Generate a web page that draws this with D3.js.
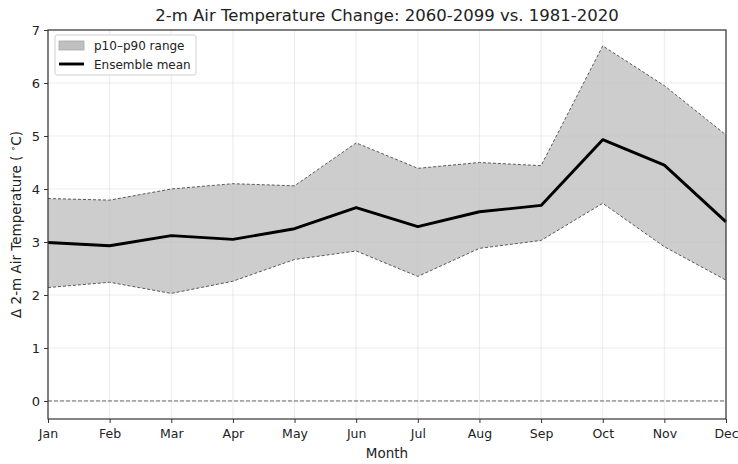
<!DOCTYPE html>
<html>
<head>
<meta charset="utf-8">
<script src="https://cdn.jsdelivr.net/npm/d3@7"></script>
<style>
  body { margin: 0; background: #fff; }
  svg { font-family: "DejaVu Sans", sans-serif; }
</style>
</head>
<body>
<div id="chart"></div>
<script>
// data
var months = ["Jan", "Feb", "Mar", "Apr", "May", "Jun", "Jul", "Aug", "Sep", "Oct", "Nov", "Dec"];
var meanVals = [2.99, 2.93, 3.12, 3.05, 3.25, 3.65, 3.29, 3.57, 3.69, 4.93, 4.45, 3.38];
var p90Vals = [3.82, 3.79, 4.00, 4.10, 4.06, 4.87, 4.39, 4.50, 4.44, 6.70, 5.95, 5.02];
var p10Vals = [2.14, 2.24, 2.03, 2.26, 2.67, 2.83, 2.35, 2.88, 3.03, 3.73, 2.91, 2.28];
var yTicks = [0, 1, 2, 3, 4, 5, 6, 7];

var W = 738, H = 464;
var margin = {top: 30, right: 12, bottom: 45, left: 48},
    width = W - margin.left - margin.right,
    height = H - margin.top - margin.bottom;

var svg = d3.select("#chart").append("svg")
    .attr("width", W)
    .attr("height", H);

var g = svg.append("g")
    .attr("transform", "translate(" + margin.left + "," + margin.top + ")");

var scX = d3.scalePoint().domain(months).range([0, width]);
var scY = d3.scaleLinear().domain([-0.34, 7.0]).range([height, 0]);

// grid
g.append("g").selectAll("line").data(months).enter().append("line")
    .attr("x1", d => scX(d)).attr("x2", d => scX(d))
    .attr("y1", 0).attr("y2", height)
    .attr("stroke", "#b0b0b0").attr("stroke-opacity", 0.3).attr("stroke-width", 0.8);
g.append("g").selectAll("line").data(yTicks).enter().append("line")
    .attr("x1", 0).attr("x2", width)
    .attr("y1", d => scY(d)).attr("y2", d => scY(d))
    .attr("stroke", "#b0b0b0").attr("stroke-opacity", 0.3).attr("stroke-width", 0.8);

// band
var rows = months.map((m, i) => ({m: m, mean: meanVals[i], lo: p10Vals[i], hi: p90Vals[i]}));

var area = d3.area()
    .x(d => scX(d.m))
    .y0(d => scY(d.lo))
    .y1(d => scY(d.hi));

g.append("path").datum(rows)
    .attr("d", area)
    .attr("fill", "#c0c0c0")
    .attr("fill-opacity", 0.8);

["lo", "hi"].forEach(function (k) {
    g.append("path").datum(rows)
        .attr("d", d3.line().x(d => scX(d.m)).y(d => scY(d[k])))
        .attr("fill", "none")
        .attr("stroke", "#5a5a5a")
        .attr("stroke-width", 1)
        .attr("stroke-dasharray", "3,2");
});

// zero line
g.append("line")
    .attr("x1", 0).attr("x2", width)
    .attr("y1", scY(0)).attr("y2", scY(0))
    .attr("stroke", "#666").attr("stroke-width", 1)
    .attr("stroke-dasharray", "4,2");

// mean
g.append("path").datum(rows)
    .attr("d", d3.line().x(d => scX(d.m)).y(d => scY(d.mean)))
    .attr("fill", "none")
    .attr("stroke", "#000")
    .attr("stroke-width", 2.9)
    .attr("stroke-linejoin", "round");

// frame
g.append("rect")
    .attr("x", 0).attr("y", 0)
    .attr("width", width).attr("height", height)
    .attr("fill", "none")
    .attr("stroke", "#333").attr("stroke-width", 1.2);

// axes
var xAxis = g.append("g")
    .attr("transform", "translate(0," + height + ")")
    .call(d3.axisBottom(scX).tickSize(4).tickPadding(6));
var yAxis = g.append("g")
    .call(d3.axisLeft(scY).tickValues(yTicks).tickSize(4).tickPadding(4));
[xAxis, yAxis].forEach(function (a) {
    a.select(".domain").remove();
    a.selectAll(".tick line").attr("stroke", "#333").attr("stroke-width", 1);
    a.selectAll("text").attr("font-size", "12.5px").attr("fill", "#222")
        .attr("font-family", "DejaVu Sans, sans-serif");
});
yAxis.selectAll("text").attr("font-size", "13px");

// labels
svg.append("text")
    .attr("x", margin.left + width / 2)
    .attr("y", 21)
    .attr("text-anchor", "middle")
    .attr("font-size", "16.5px")
    .attr("fill", "#222")
    .text("2-m Air Temperature Change: 2060-2099 vs. 1981-2020");

svg.append("text")
    .attr("x", margin.left + width / 2)
    .attr("y", 458)
    .attr("text-anchor", "middle")
    .attr("font-size", "13.5px")
    .attr("fill", "#222")
    .text("Month");

var yl = svg.append("text")
    .attr("transform", "translate(21," + (margin.top + height / 2) + ") rotate(-90)")
    .attr("text-anchor", "middle")
    .attr("font-size", "13.5px")
    .attr("fill", "#222");
yl.append("tspan").text("Δ 2-m Air Temperature ( ");
yl.append("tspan").attr("font-size", "9px").attr("dy", "-5").text("∘");
yl.append("tspan").attr("dy", "5").text("C)");

// legend
var lg = svg.append("g").attr("transform", "translate(55,35)");
lg.append("rect")
    .attr("width", 141).attr("height", 40).attr("rx", 2)
    .attr("fill", "#fff").attr("fill-opacity", 0.85)
    .attr("stroke", "#d0d0d0");
lg.append("rect")
    .attr("x", 4).attr("y", 6).attr("width", 25).attr("height", 9)
    .attr("fill", "#c0c0c0").attr("stroke", "#a8a8a8").attr("stroke-width", 0.8);
lg.append("line")
    .attr("x1", 4).attr("x2", 29).attr("y1", 29).attr("y2", 29)
    .attr("stroke", "#000").attr("stroke-width", 2.9);
lg.append("text").attr("x", 39).attr("y", 15)
    .attr("font-size", "12px").attr("fill", "#222").text("p10–p90 range");
lg.append("text").attr("x", 39).attr("y", 34)
    .attr("font-size", "12px").attr("fill", "#222").text("Ensemble mean");
</script>
</body>
</html>
